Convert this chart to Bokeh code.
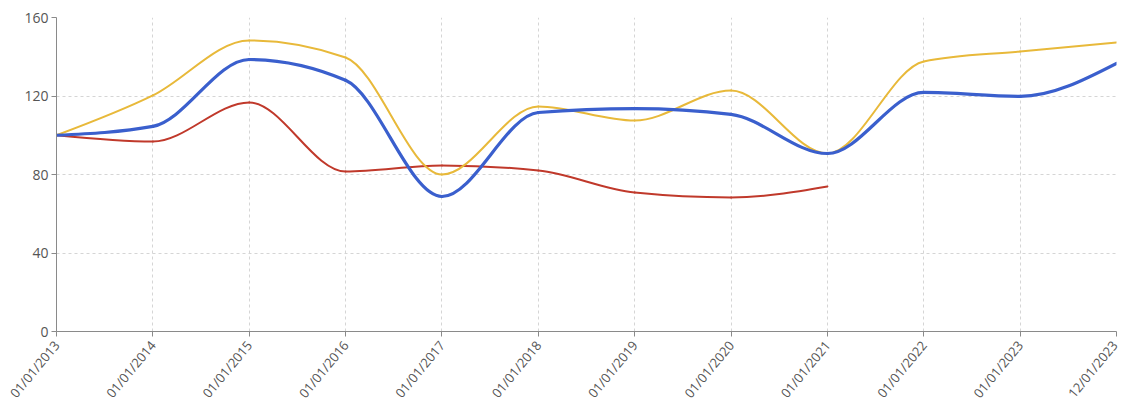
import numpy as np
from bokeh.plotting import figure
from bokeh.models import Range1d, FixedTicker
from bokeh.embed import file_html
from bokeh.resources import INLINE

dates = ["01/01/2013", "01/01/2014", "01/01/2015", "01/01/2016", "01/01/2017", "01/01/2018",
         "01/01/2019", "01/01/2020", "01/01/2021", "01/01/2022", "01/01/2023", "12/01/2023"]
blue = [100, 104.5, 138.6, 128, 68.8, 111.6, 113.6, 110.6, 90.7, 121.8, 119.8, 136.6]
yellow = [100, 120.3, 148.3, 139.6, 80, 114.7, 107.5, 122.8, 90.7, 137.6, 142.7, 147.3]
red = [100, 96.8, 116.7, 81.5, 84.6, 82, 70.8, 68.3, 73.9]
y_ticks = [0, 40, 80, 120, 160]


def monotone_segments(xs, ys):
    xs = np.asarray(xs, float)
    ys = np.asarray(ys, float)
    n = len(xs)
    h = np.diff(xs)
    s = np.diff(ys) / h
    t = np.zeros(n)
    for i in range(1, n - 1):
        h0, h1, s0, s1 = h[i - 1], h[i], s[i - 1], s[i]
        p = (s0 * h1 + s1 * h0) / (h0 + h1)
        t[i] = (np.sign(s0) + np.sign(s1)) * min(abs(s0), abs(s1), 0.5 * abs(p))
    t[0] = (3 * s[0] - t[1]) / 2
    t[-1] = (3 * s[-1] - t[-2]) / 2
    d = h / 3
    return dict(x0=xs[:-1], y0=ys[:-1], x1=xs[1:], y1=ys[1:],
                cx0=xs[:-1] + d, cy0=ys[:-1] + d * t[:-1],
                cx1=xs[1:] - d, cy1=ys[1:] - d * t[1:])


p = figure(frame_width=1060, frame_height=314, output_backend="svg", toolbar_location=None,
           min_border_left=56, min_border_top=17, min_border_right=5, min_border_bottom=2,
           x_range=Range1d(0, len(dates) - 1), y_range=Range1d(0, 160))
p.outline_line_color = None
p.background_fill_color = "white"

for a in (p.xaxis[0], p.yaxis[0]):
    a.axis_line_color = "#8a8a8a"
    a.major_tick_line_color = "#8a8a8a"
    a.minor_tick_line_color = None
    a.major_tick_in = 0
    a.major_tick_out = 5
    a.major_label_text_color = "#555555"
    a.major_label_text_font = "Open Sans"

p.xaxis[0].ticker = FixedTicker(ticks=list(range(len(dates))))
p.xaxis[0].major_label_overrides = {i: d for i, d in enumerate(dates)}
p.xaxis[0].major_label_orientation = 0.88
p.xaxis[0].major_label_text_font_size = "13px"
p.xaxis[0].major_label_standoff = 6
p.yaxis[0].ticker = FixedTicker(ticks=y_ticks)
p.yaxis[0].major_label_text_font_size = "14px"
p.yaxis[0].major_label_standoff = 3

for g in (p.xgrid[0], p.ygrid[0]):
    g.grid_line_color = "#d5d5d5"
    g.grid_line_dash = "3 3"
    g.grid_line_width = 1

xs_all = list(range(len(dates)))
series = [(red, "#c0392b", 2), (yellow, "#e8b93a", 2), (blue, "#3a5fcd", 3.2)]
for vals, col, w in series:
    seg = monotone_segments(xs_all[:len(vals)], vals)
    p.bezier(x0=seg["x0"], y0=seg["y0"], x1=seg["x1"], y1=seg["y1"],
             cx0=seg["cx0"], cy0=seg["cy0"], cx1=seg["cx1"], cy1=seg["cy1"],
             line_color=col, line_width=w, line_cap="round")

open("out.html", "w").write(file_html(p, INLINE))
